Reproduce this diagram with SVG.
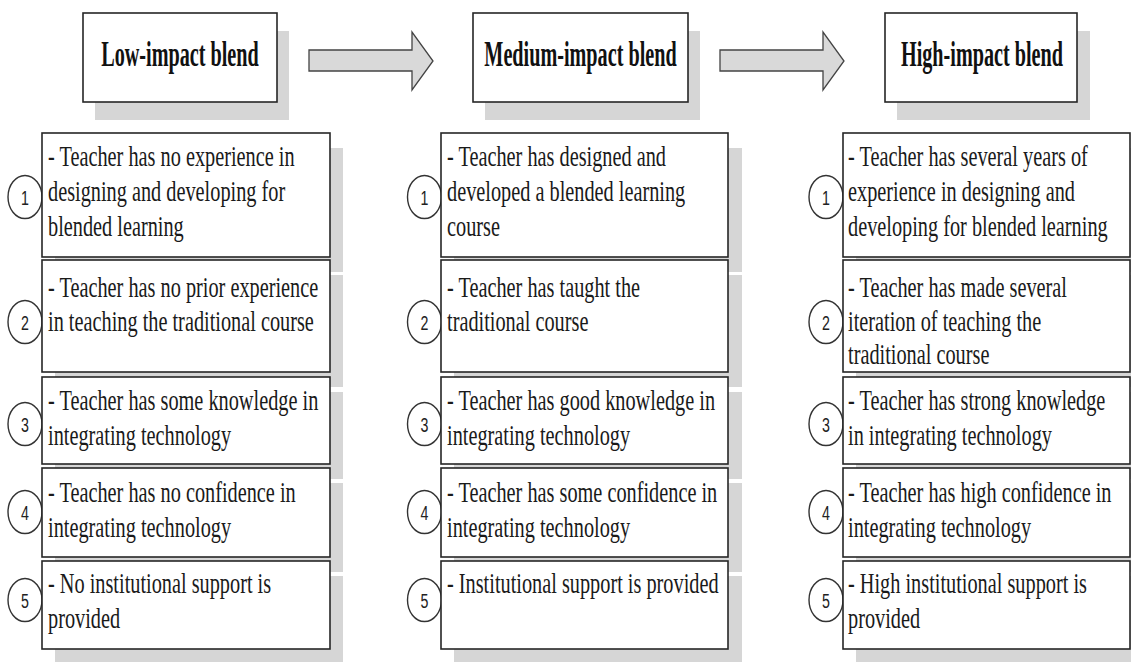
<svg xmlns="http://www.w3.org/2000/svg" width="1131" height="662" viewBox="0 0 1131 662">
<style>
.sh{fill:#d6d6d6;stroke:none}
.bx{fill:#fff;stroke:#262626;stroke-width:1.6}
.hd{font-family:"Liberation Serif","Times New Roman",serif;font-weight:bold;font-size:20.2px;fill:#111;text-anchor:middle}
.tx{font-family:"Liberation Serif","Times New Roman",serif;font-size:20.3px;fill:#1a1a1a}
.ci{fill:#fff;stroke:#333;stroke-width:1.4}
.nm{font-family:"Liberation Sans",Arial,sans-serif;font-size:14.2px;fill:#222;text-anchor:middle}
.ar{fill:#d9d9d9;stroke:#444;stroke-width:1.3;stroke-linejoin:miter}
</style>
<rect width="1131" height="662" fill="#fff"/>

<!-- headers -->
<g id="header-low">
<rect class="sh" x="95" y="31" width="194" height="89"/>
<rect class="bx" x="83" y="13" width="194" height="89"/>
<text class="hd" transform="translate(180,65.5) scale(1,1.75)">Low-impact blend</text>
</g>
<g id="header-medium">
<rect class="sh" x="485" y="31" width="215" height="89"/>
<rect class="bx" x="473" y="13" width="215" height="89"/>
<text class="hd" transform="translate(580.5,65.5) scale(1,1.75)">Medium-impact blend</text>
</g>
<g id="header-high">
<rect class="sh" x="897" y="31" width="193" height="89"/>
<rect class="bx" x="885" y="13" width="192" height="89"/>
<text class="hd" transform="translate(982,65.5) scale(1,1.75)">High-impact blend</text>
</g>

<g id="connectors">
<polygon class="ar" points="309,50 412,50 412,32 433,61 412,90 412,71 309,71"/>
<polygon class="ar" points="720,50 823,50 823,32 844,61 823,90 823,71 720,71"/>
</g>

<!-- shadows of body boxes -->
<g id="shadows">
<rect class="sh" x="55" y="148" width="288" height="124"/>
<rect class="sh" x="55" y="275" width="288" height="112"/>
<rect class="sh" x="55" y="392" width="288" height="87"/>
<rect class="sh" x="55" y="483" width="288" height="89"/>
<rect class="sh" x="55" y="576" width="288" height="88"/>
<rect class="sh" x="454" y="148" width="288" height="124"/>
<rect class="sh" x="454" y="275" width="288" height="112"/>
<rect class="sh" x="454" y="392" width="288" height="87"/>
<rect class="sh" x="454" y="483" width="288" height="89"/>
<rect class="sh" x="454" y="576" width="288" height="88"/>
<rect class="sh" x="856" y="148" width="288" height="124"/>
<rect class="sh" x="856" y="275" width="288" height="112"/>
<rect class="sh" x="856" y="392" width="288" height="87"/>
<rect class="sh" x="856" y="483" width="288" height="89"/>
<rect class="sh" x="856" y="576" width="288" height="88"/>
</g>

<!-- Low column -->
<g id="low-1">
<ellipse class="ci" cx="25" cy="197" rx="17" ry="21.5"/>
<text class="nm" transform="translate(25,204.5) scale(1,1.45)">1</text>
<rect class="bx" x="42" y="133" width="288" height="124"/>
<text class="tx" transform="translate(48,166) scale(1,1.45)">- Teacher has no experience in</text>
<text class="tx" transform="translate(48,201) scale(1,1.45)">designing and developing for</text>
<text class="tx" transform="translate(48,236) scale(1,1.45)">blended learning</text>
</g>
<g id="low-2">
<ellipse class="ci" cx="25" cy="322" rx="17" ry="21.5"/>
<text class="nm" transform="translate(25,329.5) scale(1,1.45)">2</text>
<rect class="bx" x="42" y="260" width="288" height="112"/>
<text class="tx" transform="translate(48,297) scale(1,1.45)">- Teacher has no prior experience</text>
<text class="tx" transform="translate(48,331) scale(1,1.45)">in teaching the traditional course</text>
</g>
<g id="low-3">
<ellipse class="ci" cx="25" cy="424" rx="17" ry="21.5"/>
<text class="nm" transform="translate(25,431.5) scale(1,1.45)">3</text>
<rect class="bx" x="42" y="377" width="288" height="87"/>
<text class="tx" transform="translate(48,410) scale(1,1.45)">- Teacher has some knowledge in</text>
<text class="tx" transform="translate(48,445) scale(1,1.45)">integrating technology</text>
</g>
<g id="low-4">
<ellipse class="ci" cx="25" cy="512" rx="17" ry="21.5"/>
<text class="nm" transform="translate(25,519.5) scale(1,1.45)">4</text>
<rect class="bx" x="42" y="468" width="288" height="89"/>
<text class="tx" transform="translate(48,502) scale(1,1.45)">- Teacher has no confidence in</text>
<text class="tx" transform="translate(48,537) scale(1,1.45)">integrating technology</text>
</g>
<g id="low-5">
<ellipse class="ci" cx="25" cy="600" rx="17" ry="21.5"/>
<text class="nm" transform="translate(25,607.5) scale(1,1.45)">5</text>
<rect class="bx" x="42" y="561" width="288" height="88"/>
<text class="tx" transform="translate(48,593) scale(1,1.45)">- No institutional support is</text>
<text class="tx" transform="translate(48,628) scale(1,1.45)">provided</text>
</g>

<!-- Medium column -->
<g id="medium-1">
<ellipse class="ci" cx="424.5" cy="197" rx="17" ry="21.5"/>
<text class="nm" transform="translate(424.5,204.5) scale(1,1.45)">1</text>
<rect class="bx" x="441" y="133" width="287" height="124"/>
<text class="tx" transform="translate(447,166) scale(1,1.45)">- Teacher has designed and</text>
<text class="tx" transform="translate(447,201) scale(1,1.45)">developed a blended learning</text>
<text class="tx" transform="translate(447,236) scale(1,1.45)">course</text>
</g>
<g id="medium-2">
<ellipse class="ci" cx="424.5" cy="322" rx="17" ry="21.5"/>
<text class="nm" transform="translate(424.5,329.5) scale(1,1.45)">2</text>
<rect class="bx" x="441" y="260" width="287" height="112"/>
<text class="tx" transform="translate(447,297) scale(1,1.45)">- Teacher has taught the</text>
<text class="tx" transform="translate(447,331) scale(1,1.45)">traditional course</text>
</g>
<g id="medium-3">
<ellipse class="ci" cx="424.5" cy="424" rx="17" ry="21.5"/>
<text class="nm" transform="translate(424.5,431.5) scale(1,1.45)">3</text>
<rect class="bx" x="441" y="377" width="287" height="87"/>
<text class="tx" transform="translate(447,410) scale(1,1.45)">- Teacher has good knowledge in</text>
<text class="tx" transform="translate(447,445) scale(1,1.45)">integrating technology</text>
</g>
<g id="medium-4">
<ellipse class="ci" cx="424.5" cy="512" rx="17" ry="21.5"/>
<text class="nm" transform="translate(424.5,519.5) scale(1,1.45)">4</text>
<rect class="bx" x="441" y="468" width="287" height="89"/>
<text class="tx" transform="translate(447,502) scale(1,1.45)">- Teacher has some confidence in</text>
<text class="tx" transform="translate(447,537) scale(1,1.45)">integrating technology</text>
</g>
<g id="medium-5">
<ellipse class="ci" cx="424.5" cy="600" rx="17" ry="21.5"/>
<text class="nm" transform="translate(424.5,607.5) scale(1,1.45)">5</text>
<rect class="bx" x="441" y="561" width="287" height="88"/>
<text class="tx" transform="translate(447,593) scale(1,1.45)">- Institutional support is provided</text>
</g>

<!-- High column -->
<g id="high-1">
<ellipse class="ci" cx="826" cy="197" rx="17" ry="21.5"/>
<text class="nm" transform="translate(826,204.5) scale(1,1.45)">1</text>
<rect class="bx" x="843" y="133" width="287" height="124"/>
<text class="tx" transform="translate(848,166) scale(1,1.45)">- Teacher has several years of</text>
<text class="tx" transform="translate(848,201) scale(1,1.45)">experience in designing and</text>
<text class="tx" transform="translate(848,236) scale(1,1.45)">developing for blended learning</text>
</g>
<g id="high-2">
<ellipse class="ci" cx="826" cy="322" rx="17" ry="21.5"/>
<text class="nm" transform="translate(826,329.5) scale(1,1.45)">2</text>
<rect class="bx" x="843" y="260" width="287" height="112"/>
<text class="tx" transform="translate(848,297) scale(1,1.45)">- Teacher has made several</text>
<text class="tx" transform="translate(848,331) scale(1,1.45)">iteration of teaching the</text>
<text class="tx" transform="translate(848,364) scale(1,1.45)">traditional course</text>
</g>
<g id="high-3">
<ellipse class="ci" cx="826" cy="424" rx="17" ry="21.5"/>
<text class="nm" transform="translate(826,431.5) scale(1,1.45)">3</text>
<rect class="bx" x="843" y="377" width="287" height="87"/>
<text class="tx" transform="translate(848,410) scale(1,1.45)">- Teacher has strong knowledge</text>
<text class="tx" transform="translate(848,445) scale(1,1.45)">in integrating technology</text>
</g>
<g id="high-4">
<ellipse class="ci" cx="826" cy="512" rx="17" ry="21.5"/>
<text class="nm" transform="translate(826,519.5) scale(1,1.45)">4</text>
<rect class="bx" x="843" y="468" width="287" height="89"/>
<text class="tx" transform="translate(848,502) scale(1,1.45)">- Teacher has high confidence in</text>
<text class="tx" transform="translate(848,537) scale(1,1.45)">integrating technology</text>
</g>
<g id="high-5">
<ellipse class="ci" cx="826" cy="600" rx="17" ry="21.5"/>
<text class="nm" transform="translate(826,607.5) scale(1,1.45)">5</text>
<rect class="bx" x="843" y="561" width="287" height="88"/>
<text class="tx" transform="translate(848,593) scale(1,1.45)">- High institutional support is</text>
<text class="tx" transform="translate(848,628) scale(1,1.45)">provided</text>
</g>
</svg>
